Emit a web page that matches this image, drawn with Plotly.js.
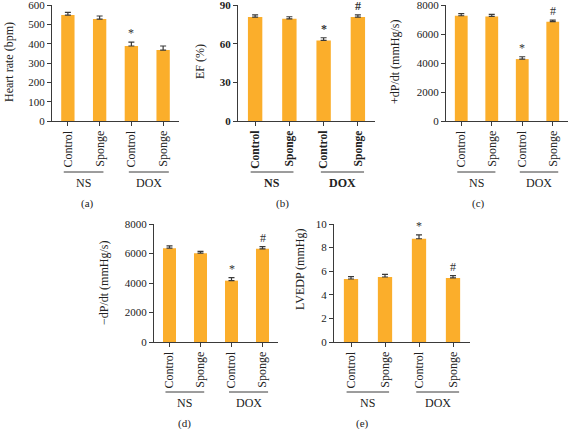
<!DOCTYPE html>
<html>
<head>
<meta charset="utf-8">
<script src="https://cdn.plot.ly/plotly-3.0.1.min.js"></script>
<style>html,body{margin:0;padding:0;background:#fff;}#chart{width:568px;height:429px;}</style>
</head>
<body>
<div id="chart"></div>
<script>
// ---- data ----
const categories = ['Control', 'Sponge', 'Control', 'Sponge'];
const groups = ['NS', 'DOX'];
const panelLabels = ['(a)', '(b)', '(c)', '(d)', '(e)'];

const heartRate = [548, 527, 388, 367];
const heartRateErr = [14, 16, 20, 21];
const heartRateMarks = ['', '', '*', ''];

const ef = [80.6, 79.3, 62.5, 80.6];
const efErr = [1.8, 1.6, 2.1, 1.8];
const efMarks = ['', '', '*', '#'];

const dpdtPlus = [7260, 7210, 4270, 6850];
const dpdtPlusErr = [150, 150, 160, 100];
const dpdtPlusMarks = ['', '', '*', '#'];

const dpdtMinus = [6360, 6020, 4160, 6320];
const dpdtMinusErr = [160, 120, 200, 150];
const dpdtMinusMarks = ['', '', '*', '#'];

const lvedp = [5.34, 5.51, 8.75, 5.43];
const lvedpErr = [0.2, 0.22, 0.33, 0.2];
const lvedpMarks = ['', '', '*', '#'];

const yTitles = ['Heart rate (bpm)', 'EF (%)', '+dP/dt (mmHg/s)', '\u2212dP/dt (mmHg/s)', 'LVEDP (mmHg)'];
const yRanges = [[0, 600], [0, 90], [0, 8000], [0, 8000], [0, 10]];
const yDticks = [100, 30, 2000, 2000, 2];

// ---- layout geometry (pixels) ----
const W = 568, H = 429;
const px = v => v / W;
const py = v => 1 - v / H;
const panels = [
  {x: [52, 179], y: [5, 121], title: {x: 9, y: 62}, lab: {x: 87, y: 203}, gline: 172, glab: 183, bold: false, values: heartRate, err: heartRateErr, marks: heartRateMarks},
  {x: [238, 375], y: [5, 121], title: {x: 200, y: 62}, lab: {x: 282, y: 203}, gline: 172, glab: 183, bold: true, values: ef, err: efErr, marks: efMarks},
  {x: [446, 568], y: [5, 121], title: {x: 395, y: 62}, lab: {x: 478, y: 203}, gline: 172, glab: 183, bold: false, values: dpdtPlus, err: dpdtPlusErr, marks: dpdtPlusMarks},
  {x: [154, 278], y: [224, 342], title: {x: 104, y: 283}, lab: {x: 184, y: 423}, gline: 392, glab: 403, bold: false, values: dpdtMinus, err: dpdtMinusErr, marks: dpdtMinusMarks},
  {x: [334, 470], y: [224, 342], title: {x: 300, y: 270}, lab: {x: 362, y: 423}, gline: 392, glab: 403, bold: false, values: lvedp, err: lvedpErr, marks: lvedpMarks}
];

const FONT = 'Liberation Serif, Times New Roman, serif';
const AX = '#3a3a3a';
const BAR = '#FBAE2B';

const traces = [];
const layout = {
  width: W, height: H,
  margin: {l: 0, r: 0, t: 0, b: 0},
  paper_bgcolor: '#fff', plot_bgcolor: 'rgba(0,0,0,0)',
  showlegend: false,
  font: {family: FONT, color: '#222'},
  shapes: [], annotations: []
};

const xIdx = categories.map((c, i) => i);

panels.forEach((p, k) => {
  const n = k === 0 ? '' : String(k + 1);
  const xa = 'x' + n, ya = 'y' + n;
  traces.push({
    type: 'bar', x: xIdx, y: p.values, xaxis: xa, yaxis: ya,
    width: 0.42,
    marker: {color: BAR, line: {width: 0}},
    error_y: {type: 'data', array: p.err, arrayminus: p.err.map(() => 0), symmetric: false,
              color: AX, thickness: 1.2, width: 3},
    hoverinfo: 'skip'
  });
  const w = p.bold ? 'bold' : 'normal';
  layout['xaxis' + n] = {
    domain: [px(p.x[0]), px(p.x[1])], anchor: ya,
    range: [-0.5, 3.5], tickvals: xIdx, ticktext: categories,
    tickangle: -90, ticks: 'outside', ticklen: 4, tickcolor: AX, tickwidth: 1,
    showline: true, linecolor: AX, linewidth: 1,
    showgrid: false, zeroline: false, fixedrange: true,
    ticklabeloverflow: 'allow',
    tickfont: {family: FONT, size: p.bold ? 11.5 : 12, color: '#222', weight: w}
  };
  layout['yaxis' + n] = {
    domain: [py(p.y[1]), py(p.y[0])], anchor: xa,
    range: yRanges[k], dtick: yDticks[k], tick0: 0,
    ticks: 'outside', ticklen: 4, tickcolor: AX, tickwidth: 1,
    showline: true, linecolor: AX, linewidth: 1,
    showgrid: false, zeroline: false, fixedrange: true,
    ticklabeloverflow: 'allow',
    tickfont: {family: FONT, size: 11, color: '#222', weight: w}
  };
  // y title
  layout.annotations.push({
    xref: 'paper', yref: 'paper', x: px(p.title.x), y: py(p.title.y),
    text: yTitles[k], textangle: -90, showarrow: false,
    xanchor: 'center', yanchor: 'middle',
    font: {family: FONT, size: 12, color: '#222'}
  });
  // significance marks
  p.marks.forEach((m, i) => {
    if (!m) return;
    layout.annotations.push({
      xref: xa, yref: ya, x: xIdx[i], y: p.values[i] + p.err[i],
      text: m, showarrow: false, xanchor: 'center', yanchor: 'bottom', yshift: 0,
      font: {family: FONT, size: 12, color: '#333', weight: p.bold ? 'bold' : 'normal'}
    });
  });
  // group lines & labels
  const spans = [[-0.13, 1.12], [1.92, 3.18]];
  spans.forEach((s, g) => {
    layout.shapes.push({
      type: 'line', xref: xa, yref: 'paper', x0: s[0], x1: s[1],
      y0: py(p.gline), y1: py(p.gline), line: {color: AX, width: 1}
    });
    layout.annotations.push({
      xref: xa, yref: 'paper', x: (s[0] + s[1]) / 2, y: py(p.glab),
      text: groups[g], showarrow: false, xanchor: 'center', yanchor: 'middle',
      font: {family: FONT, size: 12, color: '#222', weight: w}
    });
  });
  // panel label
  layout.annotations.push({
    xref: 'paper', yref: 'paper', x: px(p.lab.x), y: py(p.lab.y),
    text: panelLabels[k], showarrow: false, xanchor: 'center', yanchor: 'middle',
    font: {family: FONT, size: 11, color: '#222'}
  });
});

Plotly.newPlot('chart', traces, layout, {staticPlot: true, displayModeBar: false});
</script>
</body>
</html>
